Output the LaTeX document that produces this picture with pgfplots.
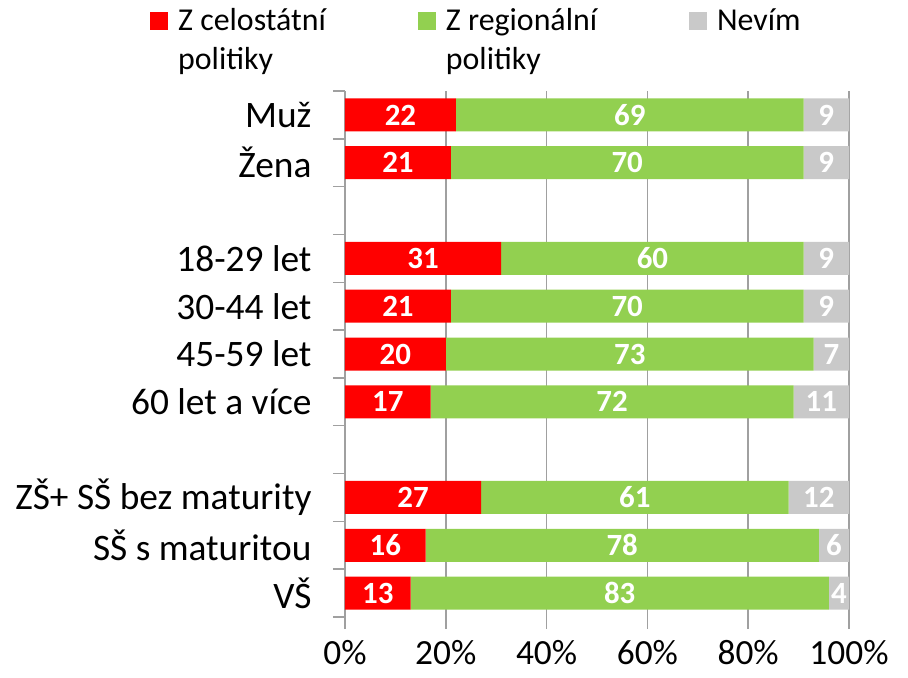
\documentclass[border=0pt]{standalone}
\usepackage{pgfplots}
\usepackage{pgfplotstable}
\pgfplotsset{compat=1.18}
\usepackage{fontspec}
\setmainfont{Carlito}
\definecolor{cRed}{RGB}{255,0,0}
\definecolor{cGreen}{RGB}{146,208,80}
\definecolor{cGray}{RGB}{201,201,201}
\definecolor{cGrid}{RGB}{160,160,160}

% pos = row on the axis (gaps at 2 and 7)
\pgfplotstableread{
pos cel reg nev
0  22 69 9
1  21 70 9
3  31 60 9
4  21 70 9
5  20 73 7
6  17 72 11
8  27 61 12
9  16 78 6
10 13 83 4
}\data

\begin{document}
\begin{tikzpicture}
\useasboundingbox (-345bp,-61bp) rectangle (563bp,617bp);
\begin{axis}[
  at={(0,0)}, anchor=south west,
  scale only axis, width=504bp, height=526bp,
  xbar stacked, bar width=0.69,
  y dir=reverse,
  xmin=0, xmax=100, ymin=-0.5, ymax=10.5,
  axis lines*=left,
  x axis line style={draw=none},
  y axis line style={cGrid, line width=1.5bp},
  xtick={0,20,40,60,80,100},
  xticklabels={0\%,20\%,40\%,60\%,80\%,100\%},
  xticklabel style={inner sep=1bp, yshift=-10bp},
  ytick={-0.5,0.5,...,10.5},
  yticklabels={},
  extra y ticks={0,1,3,4,5,6,8,9,10},
  extra y tick labels={Muž,Žena,18-29 let,30-44 let,45-59 let,60 let a více,ZŠ+ SŠ bez maturity,SŠ s maturitou,VŠ},
  extra y tick style={major tick length=0pt,
    yticklabel style={xshift=-30bp, font=\fontsize{37.5}{42}\selectfont}},
  tick align=outside,
  major tick length=12bp,
  tick style={cGrid, line width=1.5bp},
  xmajorgrids,
  grid style={cGrid, line width=1.5bp},
  ticklabel style={font=\fontsize{35.5}{40}\selectfont},
  point meta=explicit,
  nodes near coords={\pgfmathprintnumber[assume math mode=true]{\pgfplotspointmeta}},
  nodes near coords style={font=\fontsize{31}{31}\selectfont\bfseries, text=white,
    anchor=center},
  legend columns=3,
  legend style={draw=none, fill=none, inner sep=0pt, at={(-0.3869,1.1673)}, anchor=north west,
    font=\fontsize{32}{39}\selectfont,
    nodes={inner sep=0pt},
    cells={anchor=base west},
    /tikz/every odd column/.append style={column sep=10bp},
    /tikz/every even column/.append style={column sep=92bp}},
  legend image code/.code={\fill[#1] (0bp,0bp) rectangle (18bp,18bp);},
]
\addplot[fill=cRed, draw=none] table[x=cel, y=pos, meta=cel] {\data};
\addlegendentry{\begin{tabular}[t]{@{}l@{}}Z celostátní\\politiky\end{tabular}}
\addplot[fill=cGreen, draw=none] table[x=reg, y=pos, meta=reg] {\data};
\addlegendentry{\begin{tabular}[t]{@{}l@{}}Z regionální\\politiky\end{tabular}}
\addplot[fill=cGray, draw=none] table[x=nev, y=pos, meta=nev] {\data};
\addlegendentry{Nevím}
\end{axis}
\end{tikzpicture}
\end{document}
